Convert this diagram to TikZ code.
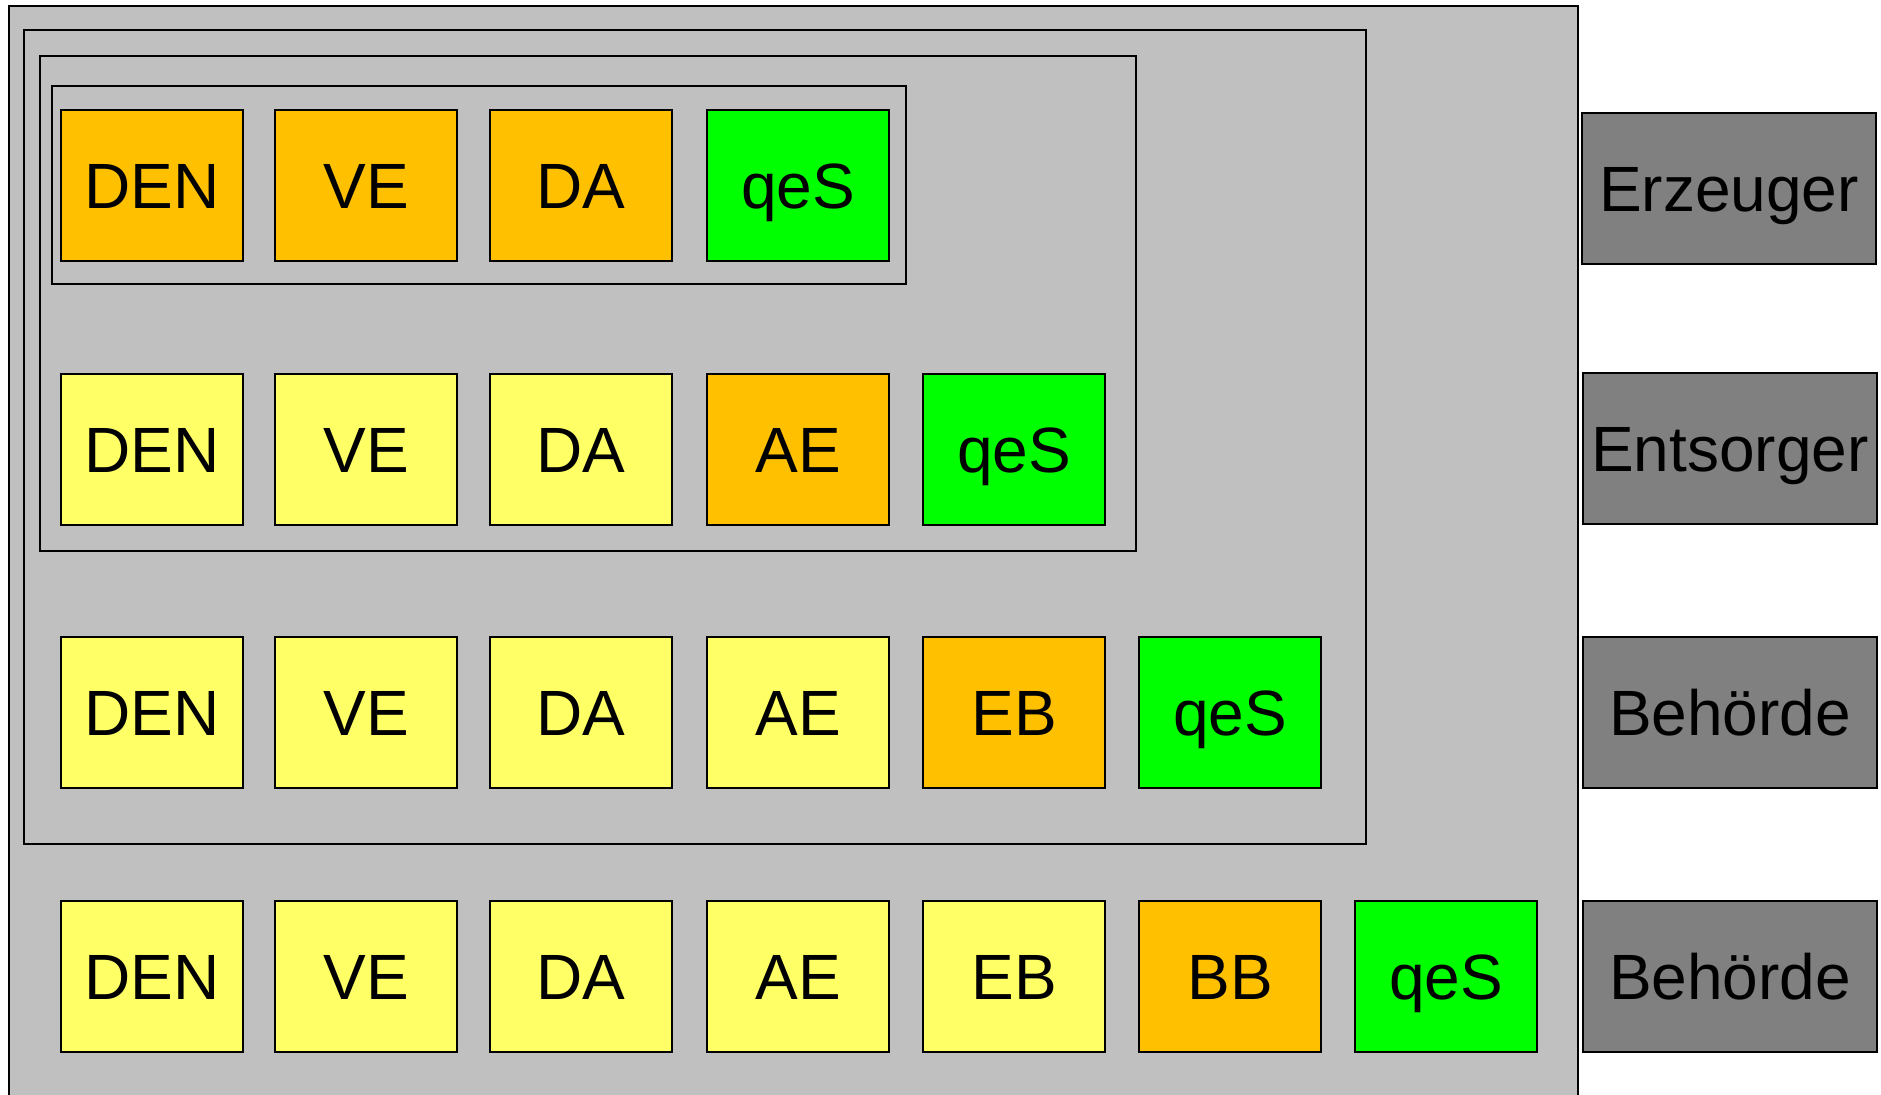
\documentclass[tikz,border=0pt]{standalone}
\usepackage{fontspec}
\setmainfont{Liberation Sans}
\definecolor{bggray}{RGB}{192,192,192}
\definecolor{rolegray}{RGB}{128,128,128}
\definecolor{sigorange}{RGB}{255,192,0}
\definecolor{sigyellow}{RGB}{255,255,102}
\definecolor{siggreen}{RGB}{0,255,0}
\tikzset{every picture/.style={line width=1pt}}
\tikzset{
  cell/.style={draw=black, minimum width=91pt, minimum height=75.5pt, inner sep=0pt,
    text height=22.6pt, text depth=0pt, font=\fontsize{32}{36}\selectfont},
  orangecell/.style={cell, fill=sigorange},
  yellowcell/.style={cell, fill=sigyellow},
  greencell/.style={cell, fill=siggreen},
  rolebox/.style={cell, fill=rolegray, minimum width=147pt}
}
\begin{document}
\begin{tikzpicture}[x=0.5pt,y=0.5pt,yscale=-1,xscale=1]
\useasboundingbox (0,0) rectangle (1881,1095);
\clip (0,0) rectangle (1881,1095);

%Shape: Rectangle [outer frame]
\draw [fill=bggray, line width=0.9pt] (9,6) rectangle (1578,1110) ;
%Shape: Rectangle [frame 3 rows]
\draw (24,30) rectangle (1366,844) ;
%Shape: Rectangle [frame 2 rows]
\draw (40,56) rectangle (1136,551) ;
%Shape: Rectangle [frame 1 row]
\draw (52,86) rectangle (906,284) ;

% Row 1
\draw (152,186) node [orangecell] (den1) {DEN};
\draw (366,186) node [orangecell] (ve1) {VE};
\draw (581,186) node [orangecell] (da1) {DA};
\draw (798,186) node [greencell] (qes1) {qeS};

% Row 2
\draw (152,450) node [yellowcell] (den2) {DEN};
\draw (366,450) node [yellowcell] (ve2) {VE};
\draw (581,450) node [yellowcell] (da2) {DA};
\draw (798,450) node [orangecell] (ae2) {AE};
\draw (1014,450) node [greencell] (qes2) {qeS};

% Row 3
\draw (152,713) node [yellowcell] (den3) {DEN};
\draw (366,713) node [yellowcell] (ve3) {VE};
\draw (581,713) node [yellowcell] (da3) {DA};
\draw (798,713) node [yellowcell] (ae3) {AE};
\draw (1014,713) node [orangecell] (eb3) {EB};
\draw (1230,713) node [greencell] (qes3) {qeS};

% Row 4
\draw (152,977) node [yellowcell] (den4) {DEN};
\draw (366,977) node [yellowcell] (ve4) {VE};
\draw (581,977) node [yellowcell] (da4) {DA};
\draw (798,977) node [yellowcell] (ae4) {AE};
\draw (1014,977) node [yellowcell] (eb4) {EB};
\draw (1230,977) node [orangecell] (bb4) {BB};
\draw (1446,977) node [greencell] (qes4) {qeS};

% Role labels
\draw (1729,189) node [rolebox] (erzeuger) {Erzeuger};
\draw (1730,449) node [rolebox] (entsorger) {Entsorger};
\draw (1730,713) node [rolebox] (behoerde1) {Behörde};
\draw (1730,977) node [rolebox] (behoerde2) {Behörde};
\end{tikzpicture}
\end{document}
